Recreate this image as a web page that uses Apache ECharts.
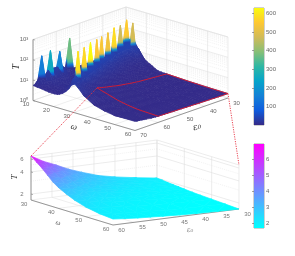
<!DOCTYPE html>
<html><head><meta charset="utf-8">
<style>html,body{margin:0;padding:0;background:#fff}#c{width:295px;height:256px}</style>
<script src="https://cdn.jsdelivr.net/npm/echarts@6/dist/echarts.min.js"></script>
</head><body><div id="c"></div>
<script>
// ---------- data ----------
const omegaTop=[10,12,14,16,17.5,19,20.5,22,23,24.5,26,27.5,29,30,32,35,40,45,50,60];
const epsTop=[30,32.5,34.1,35,35.9,38.1,39,39.9,42.1,43,43.9,46.1,47,47.9,50.1,51,51.9,53.1,54,54.9,56,57.1,58,58.9,60,61.1,62,62.9,65.1,66,66.9,68,69,70];
const tTop=[
[12,30,30,13,7.3,5.1,4,3.4,3,2.4,2.1,2.05,2,2,1.95,1.9,1.8,1.75,1.7,1.65],
[8,12,18,20,28,20,9,5,4,3,2.5,2.3,2.2,2.1,2.05,2,1.85,1.8,1.72,1.66],
[8,12,20,40,30,40,25,11,7.5,5,3.8,3,2.4,2.15,2.08,2,1.88,1.81,1.74,1.67],
[8,12,25,555,38,480,28,12,8,5.5,4,3.1,2.5,2.2,2.1,2,1.9,1.82,1.75,1.68],
[8,11,18,40,40,38,22,10,6.8,4.8,3.6,2.9,2.4,2.25,2.15,2.02,1.9,1.82,1.76,1.69],
[8,10,13,28,40,36,18,9.5,6.2,4.4,3.3,2.75,2.45,2.35,2.25,2.08,1.93,1.84,1.77,1.71],
[8,9,12,28,470,36,18,10,6.5,4.5,3.4,2.8,2.5,2.4,2.3,2.1,1.95,1.85,1.78,1.72],
[8,9,11,20,40,36,20,11,7.2,4.9,3.6,2.9,2.55,2.45,2.32,2.12,1.97,1.86,1.79,1.73],
[8,8,10,13,28,40,26,15,9.5,6,4.2,3.2,2.72,2.55,2.4,2.2,2.02,1.9,1.81,1.75],
[8,8,9,12,28,580,30,18,11,7,4.6,3.4,2.8,2.65,2.5,2.25,2.05,1.92,1.83,1.76],
[8,8,9,11,20,40,34,20,12,7.6,4.9,3.6,2.9,2.72,2.55,2.3,2.1,1.96,1.86,1.78],
[8,8,8,9,13,28,40,26,16,10,5.9,4.1,3.2,2.95,2.7,2.45,2.18,2.02,1.9,1.81],
[8,8,8,9,12,28,530,36,20,12,6.5,4.4,3.4,3.1,2.8,2.5,2.2,2.05,1.92,1.82],
[8,8,8,8,11,18,40,32,22,14,7.2,4.7,3.5,3.2,2.9,2.58,2.25,2.07,1.93,1.83],
[8,8,8,8,9,13,28,40,26,18,9,5.4,3.9,3.5,3.15,2.75,2.38,2.15,1.98,1.87],
[8,8,8,8,9,12,28,540,36,18,10,5.8,4.1,3.7,3.3,2.85,2.45,2.2,2,1.88],
[8,8,8,8,8,11,18,40,34,20,11,6.2,4.3,3.85,3.45,2.95,2.5,2.23,2.03,1.89],
[8,8,8,8,8,10,13,28,40,24,13,7,4.7,4.2,3.7,3.1,2.6,2.27,2.06,1.91],
[9,9,8,8,8,9,12,28,550,36,15,7.5,5,4.4,3.85,3.2,2.65,2.3,2.08,1.92],
[10,12,8,8,8,9,11,17,40,32,17,8,5.3,4.65,4.05,3.35,2.75,2.35,2.1,1.93],
[12,372,10,8,8,8,10,15,28,40,20,9,5.6,4.9,4.3,3.55,2.85,2.4,2.12,1.95],
[11,14,9,8,8,8,9,13,20,40,26,11,6,5.3,4.6,3.75,2.95,2.45,2.14,1.97],
[10,14,9,8,8,8,9,12,28,630,36,14,6.5,5.6,4.85,3.95,3,2.48,2.15,1.98],
[10,12,12,8,8,8,8,11,18,40,36,16,7.2,6,5.2,4.25,3.1,2.52,2.17,1.99],
[10,10,22,10,8,8,8,10,15,30,40,18,8,6.5,5.6,4.6,3.2,2.55,2.2,2],
[10,12,30,11,8,8,8,9,13,20,40,24,9.5,7.4,6.2,4.85,3.35,2.6,2.25,2.05],
[10,14,162,12,8,8,8,9,12,28,575,30,11,8,6.6,5,3.45,2.65,2.3,2.1],
[10,13,30,11,8,8,8,9,11,20,40,32,12,8.8,7.2,5.4,3.55,2.7,2.33,2.13],
[8,12,32,11,8,7,7,8,9,13,30,40,18,12,9.5,6.4,3.9,2.92,2.5,2.33],
[8,12,258,11,8,7,7,8,9,12,28,590,22,14,10.5,6.8,4,3,2.55,2.4],
[8,14,30,10,7.5,6.8,6.8,7.5,8.5,11,20,40,26,16,12,7.4,4.1,3.08,2.62,2.5],
[7,150,10,7,6.5,6,6,6.5,7,9,14,32,28,20,14,8,4.2,3.15,2.7,2.6],
[6,14,7,5.5,5.2,5,5,5.2,5.8,7.2,10,18,25,24,16,8.5,4.35,3.2,2.72,2.7],
[5.5,5.2,5,4.6,4.4,4.3,4.3,4.5,4.9,6,8,12,21,28,19,9,4.5,3.3,2.75,2.8]
];
const omegaZoom=[30,32,34,36,38,40,43,46,50,55,60];
const epsZoom=[30,35,40,44,48,51,54,57,60];
const tZoom=[
[2,1.97,1.93,1.9,1.87,1.84,1.8,1.77,1.74,1.7,1.66],
[2.2,2.12,2.05,2,1.95,1.9,1.85,1.8,1.76,1.72,1.68],
[2.45,2.32,2.22,2.12,2.05,1.98,1.92,1.86,1.8,1.75,1.71],
[2.74,2.58,2.42,2.28,2.17,2.08,1.98,1.92,1.85,1.79,1.74],
[3.25,3,2.75,2.55,2.37,2.23,2.08,1.99,1.91,1.83,1.79],
[3.75,3.4,3.08,2.8,2.56,2.38,2.19,2.07,1.96,1.87,1.83],
[4.5,4,3.55,3.15,2.83,2.6,2.34,2.18,2.03,1.92,1.87],
[5.3,4.7,4.15,3.65,3.2,2.88,2.55,2.32,2.12,1.98,1.93],
[6.6,5.75,5,4.25,3.6,3.2,2.8,2.5,2.25,2.08,2]
];
const omegaTicksTop=[10,20,30,40,50,60];
const epsTicksTop=[30,40,50,60,70];
const tTicksTop=[1,10,100,1000];
const tLabelsTop=['10⁰','10¹','10²','10³'];
const omegaTicksZoom=[30,40,50,60];
const epsTicksZoom=[30,35,40,45,50,55,60];
const tTicksZoom=[2,4,6];
const barTicksTop=[100,200,300,400,500,600];
const barTicksZoom=[2,3,4,5,6];
const parula=['#352A87','#0F5CDD','#1481D6','#06A4CA','#2EB7A4','#87BF77','#D1BB59','#FEC832','#F9FB0E'];
const cool=['#00FFFF','#FF00FF'];

// ---------- views (layout only) ----------
const viewTop={L:[33,100.5],F:[135,130.5],B:[126,68],H:61,w:[10,60],e:[30,70],z:[0,3],cmap:parula,c:[0,630],sharp:true};
const viewZoom={L:[31,200],F:[113,225],B:[157,184],H:44,w:[30,60],e:[30,60],z:[Math.log10(1.66),Math.log10(6.6)],cmap:cool,c:[1.7,6.95]};

function proj(v,w,e,t){
  const a=(w-v.w[0])/(v.w[1]-v.w[0]),b=(v.e[1]-e)/(v.e[1]-v.e[0]),c=(Math.log10(t)-v.z[0])/(v.z[1]-v.z[0]);
  return [v.L[0]+a*(v.F[0]-v.L[0])+b*(v.B[0]-v.L[0]), v.L[1]+a*(v.F[1]-v.L[1])+b*(v.B[1]-v.L[1])-c*v.H];
}
function hex(c){return [parseInt(c.slice(1,3),16),parseInt(c.slice(3,5),16),parseInt(c.slice(5,7),16)];}
function colorOf(v,t){
  let s=(t-v.c[0])/(v.c[1]-v.c[0]); s=Math.max(0,Math.min(1,s));
  const n=v.cmap.length-1,i=Math.min(n-1,Math.floor(s*n)),f=s*n-i,A=hex(v.cmap[i]),B=hex(v.cmap[i+1]);
  return 'rgb('+A.map((x,k)=>Math.round(x+(B[k]-x)*f)).join(',')+')';
}
function tri(v,api,P){ // P: three [w,e,t]
  const pts=P.map(p=>api.coord(proj(v,p[0],p[1],p[2])));
  let hi=0,lo=0; P.forEach((p,i)=>{if(p[2]>P[hi][2])hi=i;if(p[2]<P[lo][2])lo=i;});
  const tH=P[hi][2],tL=P[lo][2];
  let fill;
  if((tH-tL)/(v.c[1]-v.c[0])<0.004){fill=colorOf(v,(tH+tL)/2);}
  else{
    const stops=[];
    for(let k=0;k<=10;k++){
      let s=k/10;
      if(v.sharp&&tH>120){const u=Math.max(0,Math.min(1,(s-0.12)/0.22));s=u*u*(3-2*u);}
      stops.push({offset:k/10,color:colorOf(v,tL+(tH-tL)*s)});
    }
    fill=new echarts.graphic.LinearGradient(pts[lo][0],pts[lo][1],pts[hi][0],pts[hi][1],stops,true);
  }
  return {type:'polygon',shape:{points:pts},style:{fill:fill,stroke:fill,lineWidth:0.7,lineJoin:'round'}};
}
function surfaceItem(v,W,E,T){
  return function(p,api){
    const r=api.value(0),c=api.value(1);
    const a=[W[c],E[r],T[r][c]],b=[W[c+1],E[r],T[r][c+1]],d=[W[c],E[r+1],T[r+1][c]],f=[W[c+1],E[r+1],T[r+1][c+1]];
    const top=Math.max(a[2],b[2],d[2],f[2]);
    // the diagonal avoids the highest corner, so a peak only reaches its four neighbours
    const ch=(b[2]===top||d[2]===top)?[tri(v,api,[a,b,f]),tri(v,api,[a,d,f])]:[tri(v,api,[a,b,d]),tri(v,api,[b,d,f])];
    return {type:'group',children:ch};
  };
}
function cells(W,E){const o=[];for(let r=0;r<E.length-1;r++)for(let c=0;c<W.length-1;c++)o.push([r,c]);return o;}
function line(api,A,B,col,w,dash){
  const a=api.coord(A),b=api.coord(B);
  return {type:'line',shape:{x1:a[0],y1:a[1],x2:b[0],y2:b[1]},style:{stroke:col,lineWidth:w,lineDash:dash||null}};
}
function txt(api,P,s,o){
  o=o||{};const a=api.coord(P);
  return {type:'text',x:a[0],y:a[1],rotation:o.rot||0,style:{text:s,fill:o.col||'#666',font:o.font||'6px "Liberation Sans"',align:o.align||'center',verticalAlign:'middle'}};
}
function frame(v,wt,et,zt,zl,minors,o){
  return function(p,api){
    const ch=[],W=v.w,E=v.e,zb=Math.pow(10,v.z[0]),zh=Math.pow(10,v.z[1]);
    const G='#dfdfdf',M='#e9e9e9';
    const wall=(a,b)=>{
      minors.forEach(t=>ch.push(line(api,proj(v,a[0],a[1],t),proj(v,b[0],b[1],t),M,0.6,[1,1])));
      zt.forEach(t=>ch.push(line(api,proj(v,a[0],a[1],t),proj(v,b[0],b[1],t),G,0.6)));
      ch.push(line(api,proj(v,a[0],a[1],zh),proj(v,b[0],b[1],zh),G,0.6));
    };
    wall([W[0],E[1]],[W[0],E[0]]);
    wall([W[0],E[0]],[W[1],E[0]]);
    et.forEach(e=>{ch.push(line(api,proj(v,W[0],e,zb),proj(v,W[0],e,zh),G,0.6));ch.push(line(api,proj(v,W[0],e,zb),proj(v,W[1],e,zb),G,0.5));});
    wt.forEach(w=>{ch.push(line(api,proj(v,w,E[0],zb),proj(v,w,E[0],zh),G,0.6));ch.push(line(api,proj(v,w,E[0],zb),proj(v,w,E[1],zb),G,0.5));});
    const A='#808080';
    ch.push(line(api,proj(v,W[0],E[1],zb),proj(v,W[0],E[1],zh),A,0.8));
    ch.push(line(api,proj(v,W[0],E[1],zb),proj(v,W[1],E[1],zb),A,0.8));
    ch.push(line(api,proj(v,W[1],E[1],zb),proj(v,W[1],E[0],zb),A,0.8));
    wt.forEach(w=>{const q=proj(v,w,E[1],zb);ch.push(txt(api,[q[0]-7,q[1]+o.dy],String(w),{col:o.col}));});
    et.forEach(e=>{const q=proj(v,W[1],e,zb);ch.push(txt(api,[q[0]+8.5,q[1]+o.dy+1],String(e),{col:o.col}));});
    zt.forEach((t,i)=>{const q=proj(v,W[0],E[1],t);ch.push(line(api,q,[q[0]+2,q[1]+0.5],A,0.6));ch.push(txt(api,[q[0]-9,q[1]],zl[i],{col:o.col}));});
    o.titles.forEach(t=>ch.push(txt(api,t.at,t.s,t)));
    return {type:'group',children:ch};
  };
}
function redBox(p,api){
  const c30=omegaTop.indexOf(30),c60=omegaTop.length-1,r30=0,r60=epsTop.indexOf(60),v=viewTop,ch=[],R='#dc1c2e';
  const seg=(a,b)=>ch.push(line(api,proj(v,a[0],a[1],a[2]),proj(v,b[0],b[1],b[2]),R,0.9));
  for(let r=r30;r<r60;r++){
    seg([30,epsTop[r],tTop[r][c30]],[30,epsTop[r+1],tTop[r+1][c30]]);
    seg([60,epsTop[r],tTop[r][c60]],[60,epsTop[r+1],tTop[r+1][c60]]);
  }
  for(let c=c30;c<c60;c++){
    seg([omegaTop[c],30,tTop[r30][c]],[omegaTop[c+1],30,tTop[r30][c+1]]);
    seg([omegaTop[c],60,tTop[r60][c]],[omegaTop[c+1],60,tTop[r60][c+1]]);
  }
  const zh=6.6;
  ch.push(line(api,proj(v,30,60,tTop[r60][c30]),proj(viewZoom,30,60,zh),'#e8303f',0.9,[1.2,1.2]));
  ch.push(line(api,proj(v,60,30,tTop[r30][c60]),proj(viewZoom,60,30,zh),'#e8303f',0.9,[1.2,1.2]));
  return {type:'group',children:ch};
}
function barItem(v,min,max){
  return function(p,api){
    const a=api.coord([0,min]),b=api.coord([1,max]);
    const stops=v.cmap.map((c,i)=>({offset:i/(v.cmap.length-1),color:c}));
    return {type:'rect',shape:{x:a[0],y:b[1],width:b[0]-a[0],height:a[1]-b[1]},
      style:{fill:new echarts.graphic.LinearGradient(0,1,0,0,stops)}};
  };
}
const tLab=['2','4','6'];
const hiddenX={type:'value',show:false,min:0,max:1};
const barY=(idx,min,max,ticks)=>({type:'value',gridIndex:idx,position:'right',min:min,max:max,splitLine:{show:false},
  axisLine:{show:false},axisTick:{show:true,inside:true,length:2,lineStyle:{color:'#666',width:0.6},customValues:ticks},
  axisLabel:{color:'#666',fontSize:6,fontFamily:'Liberation Sans',margin:2,customValues:ticks}});
const opt={animation:false,backgroundColor:'#fff',
 grid:[
  {left:0,top:0,width:295,height:256,show:false},
  {left:254,top:8,width:10,height:117,show:true,borderColor:'#8a8a8a',borderWidth:0.8,backgroundColor:'transparent'},
  {left:254,top:144,width:10,height:84,show:true,borderColor:'#8a8a8a',borderWidth:0.8,backgroundColor:'transparent'}
 ],
 xAxis:[{type:'value',show:false,min:0,max:295,gridIndex:0},Object.assign({gridIndex:1},hiddenX),Object.assign({gridIndex:2},hiddenX)],
 yAxis:[{type:'value',show:false,min:0,max:256,inverse:true,gridIndex:0},barY(1,0,630,barTicksTop),barY(2,1.7,6.95,barTicksZoom)],
 series:[
  {type:'custom',silent:true,xAxisIndex:0,yAxisIndex:0,clip:false,data:[[0,0]],z:1,
   renderItem:frame(viewTop,omegaTicksTop,epsTicksTop,tTicksTop,tLabelsTop,[2,3,4,5,6,7,8,9,20,30,40,50,60,70,80,90,200,300,400,500,600,700,800,900],
    {dy:4,titles:[
      {at:[16,67],s:'T',rot:Math.PI/2,col:'#333',font:'italic 10px "Liberation Serif"'},
      {at:[74,127],s:'ω',rot:-0.25,col:'#333',font:'italic 9px "Liberation Serif"'},
      {at:[197,127],s:'ε₀',rot:0.3,col:'#333',font:'italic 9px "DejaVu Serif"'}]})},
  {type:'custom',silent:true,xAxisIndex:0,yAxisIndex:0,clip:false,z:2,progressive:0,data:cells(omegaTop,epsTop),renderItem:surfaceItem(viewTop,omegaTop,epsTop,tTop)},
  {type:'custom',silent:true,xAxisIndex:0,yAxisIndex:0,clip:false,data:[[0,0]],z:3,
   renderItem:frame(viewZoom,omegaTicksZoom,epsTicksZoom,tTicksZoom,tLab,[3,5],
    {dy:4,col:'#777',titles:[
      {at:[15,177],s:'T',rot:Math.PI/2,col:'#333',font:'italic 9px "Liberation Serif"'},
      {at:[58,223],s:'ω',rot:-0.2,col:'#666',font:'italic 7px "Liberation Serif"'},
      {at:[190,230],s:'ε₀',rot:0,col:'#888',font:'italic 7px "DejaVu Serif"'}]})},
  {type:'custom',silent:true,xAxisIndex:0,yAxisIndex:0,clip:false,z:4,progressive:0,data:cells(omegaZoom,epsZoom),renderItem:surfaceItem(viewZoom,omegaZoom,epsZoom,tZoom)},
  {type:'custom',silent:true,xAxisIndex:0,yAxisIndex:0,clip:false,z:5,data:[[0,0]],renderItem:redBox},
  {type:'custom',silent:true,xAxisIndex:1,yAxisIndex:1,data:[[0,0]],z:1,renderItem:barItem(viewTop,0,630)},
  {type:'custom',silent:true,xAxisIndex:2,yAxisIndex:2,data:[[0,0]],z:1,renderItem:barItem(viewZoom,1.7,6.95)}
 ]};
const chart=echarts.init(document.getElementById('c'),null,{width:295,height:256});
chart.setOption(opt);
</script></body></html>
